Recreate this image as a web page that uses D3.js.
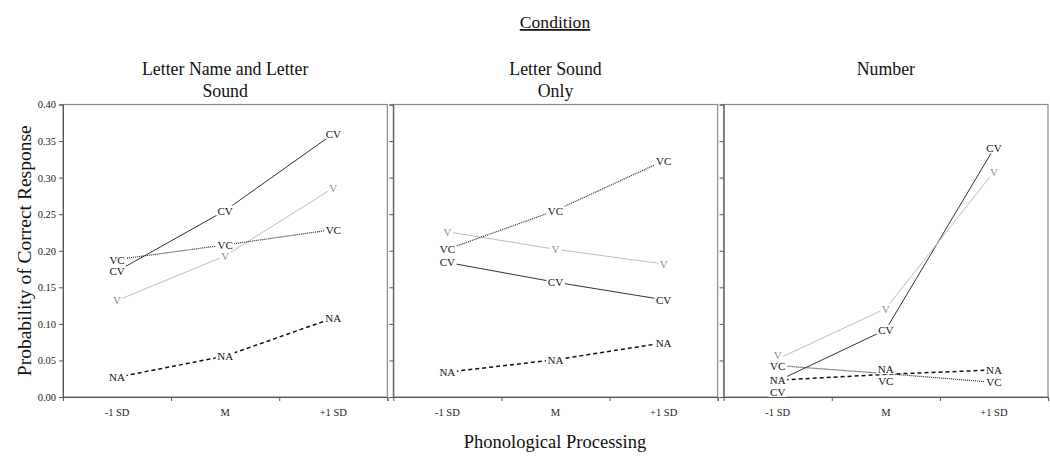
<!DOCTYPE html>
<html>
<head>
<meta charset="utf-8">
<script src="https://cdn.jsdelivr.net/npm/d3@7"></script>
<style>
  html, body { margin: 0; padding: 0; background: #fff; }
  svg { display: block; }
  text { font-family: "Liberation Serif", "Times New Roman", serif; }
</style>
</head>
<body>
<svg id="chart" width="1050" height="461"></svg>
<script>
// ---- data ----
const categories = ["-1 SD", "M", "+1 SD"];
const panels = ["Letter Name and Letter Sound", "Letter Sound Only", "Number"];
const panelTitleLines = [["Letter Name and Letter", "Sound"], ["Letter Sound", "Only"], ["Number"]];
const seriesNames = ["CV", "V", "VC", "NA"];
const yTicks = [0, 0.05, 0.10, 0.15, 0.20, 0.25, 0.30, 0.35, 0.40];

// values per panel: [Letter Name & Letter Sound, Letter Sound Only, Number]
const cvValues = [[0.172, 0.255, 0.360], [0.184, 0.157, 0.133], [0.022, 0.092, 0.340]];
const vValues  = [[0.132, 0.193, 0.286], [0.226, 0.202, 0.182], [0.052, 0.121, 0.308]];
const vcValues = [[0.188, 0.208, 0.229], [0.202, 0.255, 0.323], [0.043, 0.032, 0.020]];
const naValues = [[0.027, 0.056, 0.108], [0.034, 0.051, 0.074], [0.023, 0.031, 0.037]];

// label values that were placed apart from their point (panel index, series, category index, value)
const labelOverrides = [
  { panel: 2, series: "V",  index: 0, value: 0.057 },
  { panel: 2, series: "VC", index: 0, value: 0.042 },
  { panel: 2, series: "CV", index: 0, value: 0.007 },
  { panel: 2, series: "NA", index: 1, value: 0.038 },
  { panel: 2, series: "VC", index: 1, value: 0.022 }
];

const seriesValues = { CV: cvValues, V: vValues, VC: vcValues, NA: naValues };
const seriesStyle = {
  CV: { stroke: "#333", width: 1, dash: null, label: "#111" },
  V:  { stroke: "#bdbdbd", width: 1, dash: null, label: "#8c8c8c" },
  VC: { stroke: "#222", width: 1.2, dash: "1,1", label: "#111" },
  NA: { stroke: "#111", width: 1.5, dash: "4,3", label: "#111" }
};

// ---- layout ----
const svg = d3.select("#chart");
const plotTop = 104.5, plotBottom = 397;
const panelScale = d3.scaleBand().domain(panels).range([63, 1048]).paddingInner(0.018).paddingOuter(0);
const y = d3.scaleLinear().domain([0, 0.4]).range([plotBottom, plotTop]);

// Overall title
svg.append("text").attr("x", 555).attr("y", 28).attr("text-anchor", "middle")
  .attr("font-size", 17.6).attr("text-decoration", "underline").attr("fill", "#111").text("Condition");

// Axis titles
svg.append("text").attr("transform", `translate(31,${(plotTop + plotBottom) / 2}) rotate(-90)`)
  .attr("text-anchor", "middle").attr("font-size", 19.5).attr("fill", "#111")
  .text("Probability of Correct Response");
svg.append("text").attr("x", 555).attr("y", 448).attr("text-anchor", "middle")
  .attr("font-size", 18.5).attr("fill", "#111").text("Phonological Processing");

panels.forEach((p, pi) => {
  const x0 = panelScale(p), w = panelScale.bandwidth();
  const x = d3.scaleBand().domain(categories).range([x0, x0 + w]);
  const g = svg.append("g");

  // panel title
  const tl = panelTitleLines[pi];
  tl.forEach((line, li) => {
    g.append("text").attr("x", x0 + w / 2).attr("y", 75 + li * 22).attr("text-anchor", "middle")
      .attr("font-size", 17.8).attr("fill", "#111").text(line);
  });

  // frame
  g.append("rect").attr("x", x0).attr("y", plotTop).attr("width", w).attr("height", plotBottom - plotTop)
    .attr("fill", "none").attr("stroke", "#8a8a8a").attr("stroke-width", 1.2);

  // lines
  seriesNames.forEach(s => {
    const vals = seriesValues[s][pi];
    const st = seriesStyle[s];
    const line = d3.line().x((d, i) => x(categories[i]) + x.bandwidth() / 2).y(d => y(d));
    g.append("path").datum(vals).attr("d", line).attr("fill", "none")
      .attr("stroke", st.stroke).attr("stroke-width", st.width)
      .attr("stroke-dasharray", st.dash);
  });

  // y axis
  const ya = d3.axisLeft(y).tickValues(yTicks).tickSize(4).tickPadding(3)
    .tickFormat(pi === 0 ? d3.format(".2f") : () => "");
  const yg = g.append("g").attr("transform", `translate(${x0},0)`).call(ya);
  yg.select(".domain").attr("stroke", "#555");
  yg.selectAll(".tick line").attr("stroke", "#555");
  yg.selectAll(".tick text").attr("font-size", 10.5).attr("fill", "#222")
    .attr("font-family", "'Liberation Serif', 'Times New Roman', serif");

  // x axis: ticks at band boundaries, labels at band centres
  const xb = d3.scaleLinear().domain([0, 3]).range([x0, x0 + w]);
  const xa = d3.axisBottom(xb).tickValues([1, 2, 3]).tickSize(4).tickFormat(() => "");
  const xg = g.append("g").attr("transform", `translate(0,${plotBottom})`).call(xa);
  xg.select(".domain").attr("stroke", "#555");
  xg.selectAll(".tick line").attr("stroke", "#555");
  categories.forEach(c => {
    g.append("text").attr("x", x(c) + x.bandwidth() / 2).attr("y", 416).attr("text-anchor", "middle")
      .attr("font-size", 10.5).attr("fill", "#222").text(c);
  });

  // text-symbol labels with white backgrounds
  seriesNames.forEach(s => {
    const vals = seriesValues[s][pi];
    const st = seriesStyle[s];
    vals.forEach((v, i) => {
      const ov = labelOverrides.find(o => o.panel === pi && o.series === s && o.index === i);
      const lv = ov ? ov.value : v;
      const cx = x(categories[i]) + x.bandwidth() / 2;
      const cy = y(lv);
      const lg = g.append("g");
      const rect = lg.append("rect").attr("fill", "#fff");
      const t = lg.append("text").attr("x", cx).attr("y", cy).attr("text-anchor", "middle")
        .attr("dominant-baseline", "central").attr("font-size", 11).attr("fill", st.label).text(s);
      const bb = t.node().getBBox();
      rect.attr("x", bb.x - 1.5).attr("y", cy - 5).attr("width", bb.width + 3).attr("height", 10);
    });
  });
});
</script>
</body>
</html>
